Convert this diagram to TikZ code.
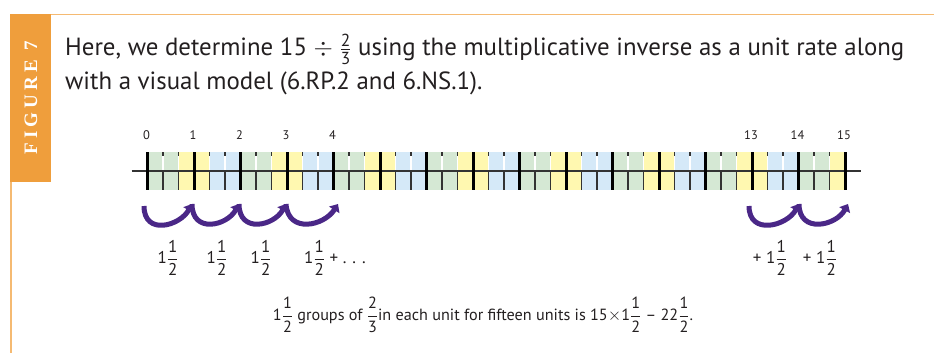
\documentclass[tikz,border=0pt]{standalone}
\usepackage{fontspec}
\usepackage{amsmath}
\setmainfont{PT Sans}
\newfontfamily\figfont[LetterSpace=22]{Liberation Serif}
\usetikzlibrary{arrows.meta}
\definecolor{orng}{HTML}{EF9E3C}
\definecolor{orngl}{HTML}{F5BA72}
\definecolor{bandG}{HTML}{D5E8D4}
\definecolor{bandY}{HTML}{FFF8B0}
\definecolor{bandB}{HTML}{D5E9F8}
\definecolor{purp}{HTML}{4A2787}
\definecolor{ink}{HTML}{231F20}
\newcommand{\mixn}[3]{$\displaystyle\text{#1}\frac{\text{#2}}{\text{#3}}$}
\tikzset{
  numlab/.style={font=\fontsize{12.5}{14}\selectfont, text=ink, inner sep=0pt},
  mixlab/.style={font=\fontsize{17}{19}\selectfont, text=ink, inner sep=0pt},
  jump/.style={draw=purp, line width=5pt, -{Triangle[length=7pt,width=12pt]}},
  unittick/.style={line width=3pt, black},
  thirdtick/.style={line width=1.2pt, black!80},
}
\begin{document}
\begin{tikzpicture}[x=1pt,y=-1pt]
\useasboundingbox (0,0) rectangle (934,353);
% frame
\draw[orngl, line width=1.6pt] (10,14.5) -- (934,14.5);
\draw[orngl, line width=1.6pt] (11,14) -- (11,353);
\fill[orng] (10,14) rectangle (51,182);
\node[rotate=90, text=white, inner sep=0pt] (fig) at (31,98) {\figfont\fontsize{19}{19}\selectfont\bfseries FIGURE 7};
% heading
\node[anchor=base west, inner sep=0pt, text=ink, font=\fontsize{24.85}{28}\selectfont] (l1) at (65,56)
  {Here, we determine 15 $\div$ $\frac{\text{2}}{\text{3}}$ using the multiplicative inverse as a unit rate along};
\node[anchor=base west, inner sep=0pt, text=ink, font=\fontsize{24.85}{28}\selectfont] (l2) at (65,89)
  {with a visual model (6.RP.2 and 6.NS.1).};
% bands
\foreach \i in {0,...,44}{
  \pgfmathtruncatemacro\c{mod(floor(\i/2),3)}
  \ifcase\c \def\col{bandG}\or \def\col{bandY}\or \def\col{bandB}\fi
  \fill[\col] ({147.5+\i*15.5+0.6},152) rectangle ({147.5+(\i+1)*15.5-0.6},190);
}
% axis
\draw[line width=1.3pt, black!80] (131.5,171) -- (861,171);
% third ticks
\foreach \i in {1,...,44}{
  \pgfmathtruncatemacro\r{mod(\i,3)}
  \ifnum\r>0
    \draw[thirdtick] ({147.5+\i*15.5},171) -- ({147.5+\i*15.5},190);
    \draw[thirdtick] ({147.5+\i*15.5},152) -- ({147.5+\i*15.5},156);
  \fi
}
% unit ticks
\foreach \k in {0,...,15}{
  \draw[unittick] ({147.5+\k*46.5},152) -- ({147.5+\k*46.5},190);
}
% number labels
\foreach \k in {0,1,2,3,4,13,14,15}{
  \node[numlab] (n\k) at ({146.5+\k*46.5},135) {\k};
}
% jumps
\coordinate (a0) at (144,206);
\coordinate (a1) at (192,204);
\coordinate (a2) at (239,204);
\coordinate (a3) at (286,204);
\coordinate (a4) at (338,204);
\coordinate (b0) at (749,206);
\coordinate (b1) at (799,204);
\coordinate (b2) at (848,204);
\draw[jump] (a0) .. controls +(0,30) and +(-12,22) .. (a1);
\draw[jump] (a1) .. controls +(0,30) and +(-12,22) .. (a2);
\draw[jump] (a2) .. controls +(0,30) and +(-12,22) .. (a3);
\draw[jump] (a3) .. controls +(2,30) and +(-14,22) .. (a4);
\draw[jump] (b0) .. controls +(0,30) and +(-12,22) .. (b1);
\draw[jump] (b1) .. controls +(0,30) and +(-12,22) .. (b2);
% mixed-number labels
\node[mixlab] (m1) at (168,258) {\mixn{1}{1}{2}};
\node[mixlab] (m2) at (217,258) {\mixn{1}{1}{2}};
\node[mixlab] (m3) at (261,258) {\mixn{1}{1}{2}};
\node[mixlab, anchor=west] (m4) at (304,258) {\mixn{1}{1}{2} + . . .};
\node[mixlab] (m5) at (770,258) {+ \mixn{1}{1}{2}};
\node[mixlab] (m6) at (820,258) {+ \mixn{1}{1}{2}};
% summary
\node[mixlab, font=\fontsize{16.2}{18}\selectfont] (sum) at (483,315)
  {\mixn{1}{1}{2} groups of $\displaystyle\frac{\text{2}}{\text{3}}$in each unit for fifteen units is 15$\times$\mixn{1}{1}{2} -- 22\mixn{}{1}{2}.};
\end{tikzpicture}
\end{document}
